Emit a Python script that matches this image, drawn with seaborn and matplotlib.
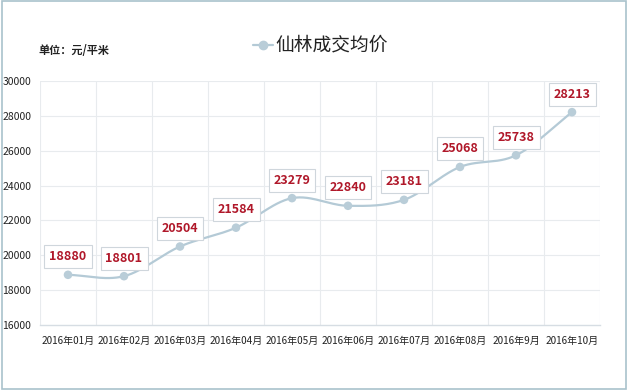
import numpy as np
import pandas as pd
import matplotlib
matplotlib.use("Agg")
import matplotlib.pyplot as plt
import seaborn as sns
from matplotlib.patches import Rectangle

months = ["2016年01月", "2016年02月", "2016年03月", "2016年04月", "2016年05月",
          "2016年06月", "2016年07月", "2016年08月", "2016年9月", "2016年10月"]
prices = [18880, 18801, 20504, 21584, 23279, 22840, 23181, 25068, 25738, 28213]
yticks = [16000, 18000, 20000, 22000, 24000, 26000, 28000, 30000]
title = "仙林成交均价"
unit_label = "单位：元/平米"

sns.set_theme(style="white")
plt.rcParams['font.family'] = ['Noto Sans CJK SC', 'DejaVu Sans']

df = pd.DataFrame({"x": np.arange(len(months)), "price": prices})

fig = plt.figure(figsize=(6.29, 3.91), dpi=100)
ax = fig.add_axes([40/629, 1-325/391, 560/629, 244/391])

# smooth curve (Catmull-Rom through data points)
def catmull(xs, ys, n=30):
    xs = np.asarray(xs, float); ys = np.asarray(ys, float)
    px = np.concatenate([[2*xs[0]-xs[1]], xs, [2*xs[-1]-xs[-2]]])
    py = np.concatenate([[2*ys[0]-ys[1]], ys, [2*ys[-1]-ys[-2]]])
    ox, oy = [], []
    for i in range(1, len(px)-2):
        t = np.linspace(0, 1, n, endpoint=False)
        for p, out in ((px, ox), (py, oy)):
            p0, p1, p2, p3 = p[i-1], p[i], p[i+1], p[i+2]
            out.extend(0.5*((2*p1) + (-p0+p2)*t + (2*p0-5*p1+4*p2-p3)*t**2 + (-p0+3*p1-3*p2+p3)*t**3))
    ox.append(xs[-1]); oy.append(ys[-1])
    return np.array(ox), np.array(oy)

sx, sy = catmull(df["x"], df["price"])
smooth = pd.DataFrame({"x": sx, "price": sy})
line_color = "#b4cad6"
sns.lineplot(data=smooth, x="x", y="price", ax=ax, color=line_color, linewidth=1.6, sort=False, zorder=3)
sns.scatterplot(data=df, x="x", y="price", ax=ax, color="#b9cdd8", s=38, edgecolor="none", zorder=4)

for xi, v in zip(df["x"], df["price"]):
    ax.annotate(f"{v}", (xi, v), xytext=(0, 13), textcoords="offset points",
                ha="center", va="center", fontsize=9, fontweight="bold", color="#b0182a",
                bbox=dict(boxstyle="square,pad=0.4", fc="white", ec="#cfd6dc", lw=0.8), zorder=5)

ax.set_xlim(-0.5, len(months)-0.5)
ax.set_ylim(16000, 30000)
ax.set_yticks(yticks)
ax.set_yticklabels([str(t) for t in yticks], fontsize=7.5, color="#222222", ha="left")
ax.tick_params(axis="y", pad=27, length=0)
ax.set_xticks(np.arange(len(months)))
ax.set_xticklabels(months, fontsize=7.2, color="#222222")
ax.tick_params(axis="x", pad=8, length=0)
ax.set_xlabel(""); ax.set_ylabel("")

for yv in yticks[1:]:
    ax.axhline(yv, color="#e8ebee", lw=0.8, zorder=1)
for b in np.arange(-0.5, len(months), 1.0):
    ax.axvline(b, color="#e8ebee", lw=0.8, zorder=1)
for s in ["top", "right", "left"]:
    ax.spines[s].set_visible(False)
ax.spines["bottom"].set_color("#d6dde3")
ax.spines["bottom"].set_linewidth(1)

# title with legend marker
ty = 1-45/391
fig.text(275/629, ty, title, fontsize=13.5, color="#222222", ha="left", va="center")
fig.add_artist(plt.Line2D([253/629, 273/629], [ty, ty], color=line_color, lw=1.6))
fig.add_artist(plt.Line2D([263/629], [ty], marker="o", color="#b9cdd8", markersize=6, lw=0))
fig.text(38/629, 1-50/391, unit_label, fontsize=8, fontweight="bold", color="#222222", ha="left", va="center")

# border
fig.add_artist(Rectangle((0.003, 0.004), 0.992, 0.994, transform=fig.transFigure,
                         fill=False, ec="#a9c2cc", lw=1.2))

fig.savefig("out.png", dpi=100)
